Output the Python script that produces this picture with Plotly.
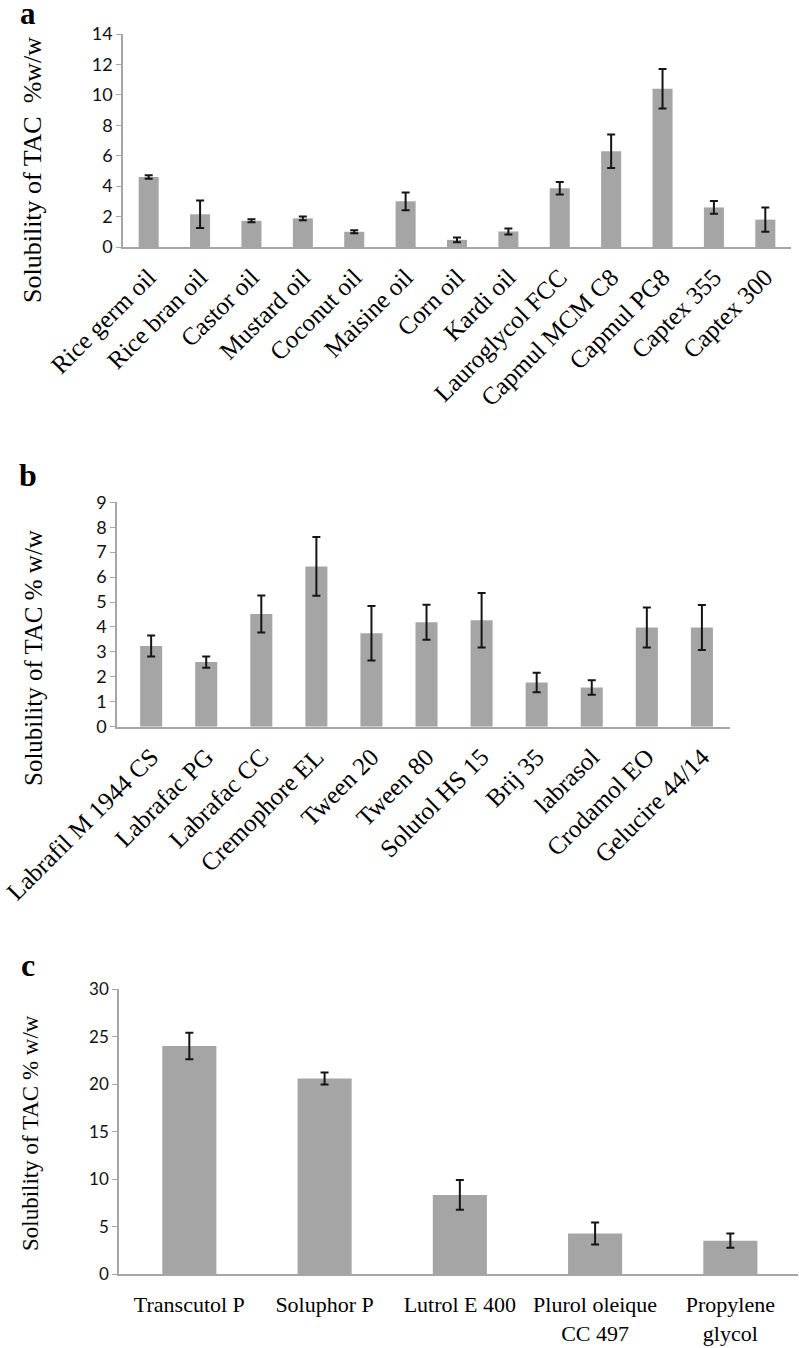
import plotly.graph_objects as go

# ---------------- data ----------------
cats_a = ["Rice germ oil", "Rice bran oil", "Castor oil", "Mustard oil", "Coconut oil",
          "Maisine oil", "Corn oil", "Kardi oil", "Lauroglycol FCC", "Capmul MCM C8",
          "Capmul PG8", "Captex 355", "Captex 300"]
vals_a = [4.6, 2.15, 1.72, 1.88, 1.0, 3.0, 0.47, 1.02, 3.86, 6.3, 10.4, 2.6, 1.8]
errs_a = [0.12, 0.9, 0.1, 0.13, 0.1, 0.58, 0.15, 0.2, 0.41, 1.1, 1.3, 0.42, 0.8]

cats_b = ["Labrafil M 1944 CS", "Labrafac PG", "Labrafac CC", "Cremophore EL", "Tween 20",
          "Tween 80", "Solutol HS 15", "Brij 35", "labrasol", "Crodamol EO", "Gelucire 44/14"]
vals_b = [3.24, 2.59, 4.52, 6.43, 3.75, 4.19, 4.27, 1.77, 1.57, 3.98, 3.98]
errs_b = [0.42, 0.23, 0.74, 1.18, 1.09, 0.70, 1.09, 0.39, 0.29, 0.80, 0.90]

cats_c = ["Transcutol P", "Soluphor P", "Lutrol E 400", "Plurol oleique<br>CC 497", "Propylene<br>glycol"]
vals_c = [24.0, 20.6, 8.35, 4.3, 3.54]
errs_c = [1.39, 0.63, 1.56, 1.16, 0.75]

# ---------------- layout helpers ----------------
W, H = 799, 1348
def xd(x0, x1):
    return [x0 / W, x1 / W]
def yd(ytop, ybot):
    return [1 - ybot / H, 1 - ytop / H]

BAR = "#a5a5a5"
AX = "#a6a6a6"
SERIF = "Liberation Serif, Times New Roman, serif"
SANS = "Lato, Open Sans, sans-serif"

fig = go.Figure()

def add_bars(cats, vals, errs, xa, ya, width):
    fig.add_trace(go.Bar(
        x=cats, y=vals, xaxis=xa, yaxis=ya, width=width,
        marker=dict(color=BAR, line=dict(width=0)),
        error_y=dict(type="data", array=errs, visible=True, color="#151515",
                     thickness=2, width=4),
        showlegend=False, hoverinfo="skip"))

add_bars(cats_a, vals_a, errs_a, "x", "y", 0.39)
add_bars(cats_b, vals_b, errs_b, "x2", "y2", 0.40)
add_bars(cats_c, vals_c, errs_c, "x3", "y3", 0.40)

def xaxis(dom, anchor, rng, angle, size, standoff=0):
    return dict(domain=dom, anchor=anchor, range=rng, showline=True, linecolor=AX,
                linewidth=1.5, ticks="", showgrid=False, zeroline=False,
                tickangle=angle, tickfont=dict(family=SERIF, size=size, color="#000"),
                fixedrange=True, ticklabelstandoff=standoff, automargin=False)

def yaxis(dom, anchor, rng, dtick, size):
    return dict(domain=dom, anchor=anchor, range=rng, dtick=dtick, showline=True,
                linecolor=AX, linewidth=1.5, ticks="outside", ticklen=5, tickcolor=AX,
                tickwidth=1, showgrid=False, zeroline=False,
                tickfont=dict(family=SANS, size=size, color="#111"), fixedrange=True,
                automargin=False)

fig.update_layout(
    width=W, height=H, margin=dict(l=0, r=0, t=0, b=0),
    paper_bgcolor="white", plot_bgcolor="white",
    xaxis=xaxis(xd(123, 791), "y", [-0.5, 12.5], -45, 25, 4),
    yaxis=yaxis(yd(34, 247), "x", [0, 14], 2, 18),
    xaxis2=xaxis(xd(117, 730), "y2", [-0.62, 10.51], -45, 25, 4),
    yaxis2=yaxis(yd(502.3, 726.7), "x2", [0, 9], 1, 18),
    xaxis3=xaxis(xd(119, 798), "y3", [-0.52, 4.5], 0, 22, 10),
    yaxis3=yaxis(yd(989, 1274.3), "x3", [0, 30], 5, 17),
)

def ann(text, px, py, size, angle=0, bold=False):
    fig.add_annotation(text=("<b>%s</b>" % text) if bold else text,
                       x=px / W, y=1 - py / H, xref="paper", yref="paper",
                       showarrow=False, textangle=angle,
                       font=dict(family=SERIF, size=size, color="#000"),
                       xanchor="center", yanchor="middle")

ann("a", 28, 14, 31, bold=True)
ann("b", 28, 475, 32, bold=True)
ann("c", 28, 965, 32, bold=True)
ann("Solubility of TAC  %w/w", 33, 170, 26, angle=-90)
ann("Solubility of TAC % w/w", 33, 658, 25, angle=-90)
ann("Solubility of TAC % w/w", 30, 1133, 23, angle=-90)

fig.write_html("out.html", config={"displayModeBar": False},
               post_script="document.body.style.margin='0';document.body.style.overflow='hidden';")
